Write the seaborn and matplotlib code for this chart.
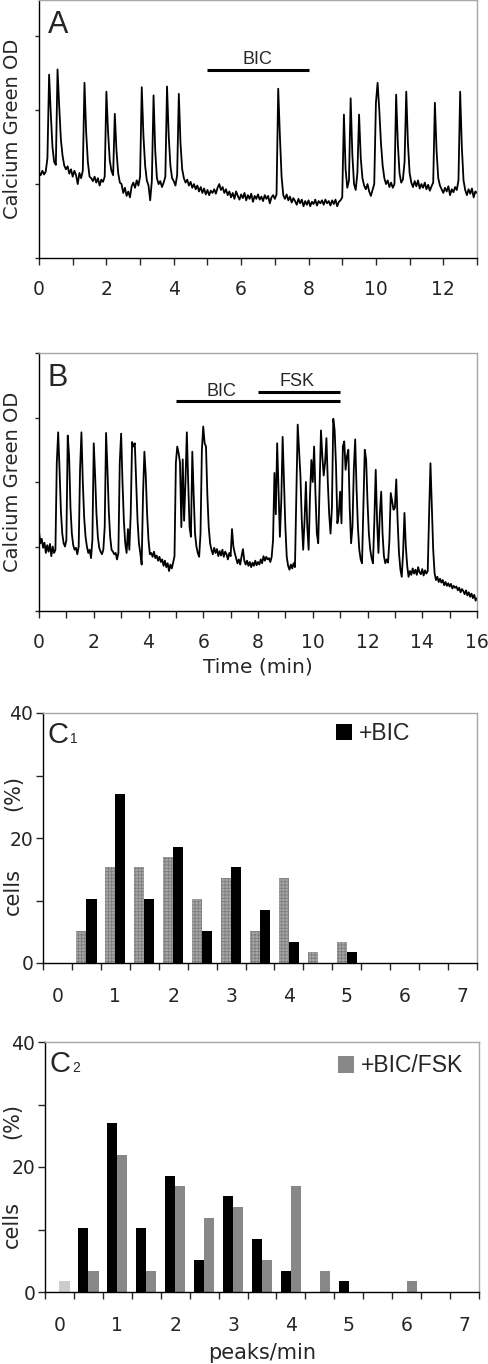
import numpy as np
import pandas as pd
import seaborn as sns
import matplotlib.pyplot as plt
from matplotlib.patches import Patch

# ---------------------------------------------------------
# data
# ---------------------------------------------------------
DT = 0.05  # trace sampling step (min)

# panel A: Calcium Green OD, 0-13 min
trace_a = [
    1.16, 1.12, 1.18, 1.13, 1.17, 1.35, 2.48, 1.95, 1.50, 1.30, 1.26, 2.55, 2.05, 1.60, 1.38, 1.25, 1.20, 1.24, 1.14, 1.20,
    1.10, 1.18, 1.12, 1.00, 1.15, 1.08, 1.18, 2.37, 1.70, 1.30, 1.10, 1.08, 1.04, 1.10, 1.02, 1.08, 0.98, 1.06, 1.03, 1.10,
    2.25, 1.70, 1.32, 1.18, 1.12, 1.95, 1.45, 1.15, 1.02, 1.00, 0.88, 0.95, 0.84, 0.90, 0.82, 0.97, 1.02, 0.95, 1.05, 0.98,
    1.10, 2.31, 1.65, 1.25, 1.05, 0.98, 0.78, 1.05, 2.20, 1.45, 1.08, 1.00, 1.04, 0.96, 1.02, 1.10, 2.32, 1.65, 1.25, 1.08,
    1.04, 0.98, 1.12, 2.22, 1.55, 1.20, 1.08, 1.02, 1.06, 0.98, 1.03, 0.95, 1.00, 0.93, 0.98, 0.90, 0.96, 0.88, 0.94, 0.86,
    0.92, 0.85, 0.91, 0.88, 0.93, 0.87, 0.95, 1.00, 0.92, 0.96, 0.88, 0.93, 0.85, 0.90, 0.82, 0.88, 0.80, 0.90, 0.84, 0.79,
    0.86, 0.81, 0.88, 0.78, 0.85, 0.80, 0.87, 0.76, 0.84, 0.80, 0.86, 0.79, 0.83, 0.77, 0.85, 0.80, 0.84, 0.74, 0.82, 0.85,
    0.80, 0.86, 2.29, 1.65, 1.10, 0.85, 0.80, 0.86, 0.78, 0.83, 0.75, 0.81, 0.77, 0.72, 0.80, 0.74, 0.79, 0.70, 0.77, 0.72,
    0.78, 0.70, 0.76, 0.73, 0.79, 0.71, 0.77, 0.74, 0.78, 0.72, 0.79, 0.74, 0.77, 0.71, 0.78, 0.73, 0.79, 0.70, 0.76, 0.78,
    0.82, 1.94, 1.20, 0.95, 1.05, 2.16, 1.40, 1.00, 0.92, 1.15, 1.94, 1.35, 1.08, 0.98, 0.93, 1.00, 0.90, 0.84, 0.92, 1.00,
    2.10, 2.37, 2.00, 1.55, 1.25, 1.08, 1.00, 1.05, 0.96, 1.02, 0.95, 1.00, 2.21, 1.55, 1.15, 1.02, 1.06, 1.30, 2.25, 1.55,
    1.15, 1.02, 0.96, 1.04, 0.97, 1.05, 0.94, 1.00, 0.95, 1.02, 0.93, 0.99, 0.91, 0.97, 1.02, 2.10, 1.45, 1.08, 0.98, 0.93,
    0.88, 0.95, 0.90, 0.97, 0.85, 0.93, 0.89, 0.96, 0.92, 1.05, 2.25, 1.50, 1.05, 0.92, 0.85, 0.93, 0.87, 0.94, 0.82, 0.90,
    0.88,
]

# panel B: Calcium Green OD, 0-16 min
trace_b = [
    1.23, 1.05, 1.12, 0.98, 1.06, 0.90, 1.02, 0.92, 1.04, 0.85, 1.00, 0.90, 0.95, 2.30, 2.77, 2.20, 1.55, 1.20, 1.05, 1.00,
    1.10, 2.72, 2.40, 1.60, 1.20, 1.02, 0.95, 0.98, 0.88, 1.00, 2.20, 2.77, 2.00, 1.45, 1.15, 1.00, 0.90, 0.95, 0.82, 1.10,
    2.60, 2.10, 1.50, 1.15, 0.98, 0.92, 0.88, 0.95, 1.30, 2.76, 2.20, 1.55, 1.15, 0.95, 0.92, 0.88, 0.90, 0.80, 0.90, 2.30,
    2.75, 2.00, 1.40, 1.05, 0.90, 1.27, 0.95, 1.50, 2.62, 2.55, 2.60, 2.00, 1.40, 1.05, 0.90, 0.72, 1.80, 2.47, 2.10, 1.50,
    1.10, 0.88, 0.90, 0.84, 0.92, 0.82, 0.86, 0.78, 0.84, 0.76, 0.80, 0.70, 0.78, 0.68, 0.74, 0.62, 0.72, 0.66, 0.75, 0.85,
    2.30, 2.55, 2.45, 2.30, 1.30, 2.35, 1.40, 2.00, 2.77, 2.00, 1.30, 1.15, 2.47, 1.80, 1.20, 1.00, 0.90, 0.84, 1.20, 2.50,
    2.86, 2.60, 2.55, 1.80, 1.30, 1.05, 0.95, 0.88, 0.98, 0.90, 0.96, 0.85, 0.93, 0.86, 0.95, 0.84, 0.92, 0.88, 0.80, 0.90,
    0.85, 1.27, 1.00, 0.90, 0.82, 0.74, 0.80, 0.72, 0.85, 0.96, 0.78, 0.72, 0.78, 0.70, 0.76, 0.68, 0.75, 0.70, 0.78, 0.71,
    0.76, 0.72, 0.80, 0.74, 0.85, 0.78, 0.84, 0.80, 0.82, 0.76, 0.84, 1.10, 2.14, 1.50, 2.60, 1.90, 1.15, 1.70, 2.70, 2.00,
    1.30, 0.84, 0.70, 0.64, 0.72, 0.66, 0.74, 0.68, 1.80, 2.89, 2.50, 2.10, 1.40, 0.95, 1.40, 2.00, 1.30, 0.95, 1.80, 2.34,
    2.00, 2.55, 1.80, 1.20, 1.05, 1.90, 2.80, 2.40, 2.10, 2.30, 2.68, 2.00, 1.50, 1.20, 1.60, 2.98, 2.80, 2.25, 1.36, 1.50,
    1.85, 1.36, 2.55, 2.63, 2.19, 2.40, 2.50, 1.60, 1.05, 1.30, 2.20, 2.66, 1.90, 1.30, 0.95, 0.80, 0.74, 1.60, 2.50, 2.35,
    1.70, 1.20, 0.95, 0.82, 0.74, 1.40, 2.19, 1.40, 0.90, 1.50, 1.85, 1.20, 0.85, 0.74, 0.80, 0.75, 1.10, 1.83, 1.70, 1.57,
    1.60, 2.04, 1.40, 0.90, 0.65, 0.53, 0.90, 1.52, 1.00, 0.70, 0.53, 0.62, 0.56, 0.66, 0.58, 0.64, 0.56, 0.68, 0.60, 0.57,
    0.65, 0.55, 0.63, 0.58, 0.62, 1.50, 2.29, 1.60, 0.95, 0.59, 0.48, 0.53, 0.45, 0.50, 0.44, 0.48, 0.40, 0.45, 0.39, 0.43,
    0.38, 0.42, 0.35, 0.39, 0.36, 0.38, 0.32, 0.36, 0.29, 0.34, 0.31, 0.26, 0.32, 0.24, 0.29, 0.22, 0.27, 0.20, 0.25, 0.16,
    0.20,
]

# drug application periods (label, start min, end min)
drugs_a = [("BIC", 5, 8)]
drugs_b = [("BIC", 5, 11), ("FSK", 8, 11)]

# histograms: peaks/min bins and % of cells
rates = [0, 0.5, 1, 1.5, 2, 2.5, 3, 3.5, 4, 4.5, 5, 5.5, 6, 6.5, 7]
ctrl_pct = [0, 5.1, 15.3, 15.3, 16.9, 10.2, 13.6, 5.1, 13.6, 1.7, 3.4, 0, 0, 0, 0]
bic_pct = [0, 10.2, 27.1, 10.2, 18.6, 5.1, 15.3, 8.5, 3.4, 0, 1.7, 0, 0, 0, 0]
fsk_pct = [1.7, 3.4, 22.0, 3.4, 16.9, 11.9, 13.6, 5.1, 16.9, 3.4, 0, 0, 1.7, 0, 0]

# ---------------------------------------------------------
# style
# ---------------------------------------------------------
sns.set_style("ticks")
plt.rcParams['font.family'] = ['DejaVu Sans']
plt.rcParams['hatch.linewidth'] = 0.6
ARIAL = 'Liberation Sans'
TICK = 13.5
LAB = 14.5

W, H = 488, 1364
fig = plt.figure(figsize=(W / 100, H / 100), dpi=100)


def px_axes(l, t, r, b):
    return fig.add_axes([l / W, 1 - b / H, (r - l) / W, (b - t) / H])


def frame(ax):
    for s in ['left', 'bottom']:
        ax.spines[s].set_color('black')
        ax.spines[s].set_linewidth(1.0)
    for s in ['top', 'right']:
        ax.spines[s].set_visible(True)
        ax.spines[s].set_color('#a8a8a8')
        ax.spines[s].set_linewidth(1.0)


def trace_panel(ax, vals, xmax, ymax, letter, drugs, bar_levels, text_levels):
    df = pd.DataFrame({'t': np.arange(len(vals)) * DT, 'od': vals})
    sns.lineplot(data=df, x='t', y='od', ax=ax, color='black', lw=1.3,
                 estimator=None)
    ax.set_xlim(0, xmax)
    ax.set_ylim(0, ymax)
    ax.set_xticks(range(xmax + 1))
    ax.set_xticklabels([str(i) if i % 2 == 0 else '' for i in range(xmax + 1)])
    ax.set_yticks(range(int(ymax) + 1))
    ax.set_yticklabels([])
    ax.tick_params(axis='x', direction='out', length=5, width=1,
                   labelsize=TICK, pad=11)
    ax.tick_params(axis='y', direction='out', length=3, width=1)
    ax.set_xlabel('')
    ax.set_ylabel('')
    # y label as plain text, glyphs end ~17 px from the left edge
    ax.text(-0.038, 0.5, 'Calcium Green OD', transform=ax.transAxes,
            rotation=90, ha='right', va='center', fontsize=14)
    ax.text(0.02, 0.872, letter, transform=ax.transAxes, fontsize=22,
            family=ARIAL, va='baseline')
    for (name, t0, t1), yl, yt in zip(drugs, bar_levels, text_levels):
        ax.plot([t0, t1], [yl, yl], color='black', lw=2.2, solid_capstyle='butt')
        ax.text(*yt, name, fontsize=13, family=ARIAL, ha='center', va='baseline')
    frame(ax)


# ---------------------------------------------------------
# A
# ---------------------------------------------------------
ax_a = px_axes(39, 0, 477, 258)
trace_panel(ax_a, trace_a, 13, 3.49, 'A', drugs_a, [2.54], [(6.47, 2.62)])

# ---------------------------------------------------------
# B
# ---------------------------------------------------------
ax_b = px_axes(39, 353, 477, 611)
trace_panel(ax_b, trace_b, 16, 4.0, 'B', drugs_b, [3.26, 3.40],
            [(6.65, 3.33), (9.44, 3.49)])
ax_b.set_xlabel('Time (min)', fontsize=LAB, labelpad=4)


# ---------------------------------------------------------
# C1 / C2 histograms
# ---------------------------------------------------------
def hist_panel(ax, df, order, palette, sub, legend_label, legend_color, leg_y,
               ylab_x, cells_y, pct_y):
    sns.barplot(data=df, x='rate', y='pct', hue='group', hue_order=order,
                palette=palette, native_scale=True, width=0.7, saturation=1,
                errorbar=None, linewidth=0, legend=False, ax=ax)
    ax.set_xlim(-0.25, 7.25)
    ax.set_ylim(0, 40)
    ax.set_xticks(range(8))
    ax.set_xticklabels([str(i) for i in range(8)])
    ax.set_xticks(np.arange(-0.25, 7.3, 0.5), minor=True)
    ax.tick_params(axis='x', which='major', length=0, labelsize=TICK, pad=17)
    ax.tick_params(axis='x', which='minor', direction='out', length=5, width=1)
    ax.set_yticks([0, 20, 40])
    ax.set_yticks([10, 30], minor=True)
    ax.tick_params(axis='y', which='both', direction='out', length=5, width=1,
                   labelsize=TICK, pad=2)
    ax.set_xlabel('')
    ax.set_ylabel('')
    ax.text(ylab_x, cells_y, 'cells', transform=ax.transAxes, rotation=90,
            ha='right', va='center', fontsize=15)
    ax.text(ylab_x, pct_y, '(%)', transform=ax.transAxes, rotation=90,
            ha='right', va='center', fontsize=15)
    ax.text(0.01, 0.88, 'C', transform=ax.transAxes, fontsize=21,
            family=ARIAL, va='baseline')
    ax.text(0.062, 0.88, sub, transform=ax.transAxes, fontsize=10,
            family=ARIAL, va='baseline')
    ax.legend(handles=[Patch(facecolor=legend_color, edgecolor='none', label=legend_label)],
              loc='upper left', bbox_to_anchor=(0.675, leg_y), frameon=False,
              prop={'family': ARIAL, 'size': 16.5}, handlelength=0.7,
              handleheight=0.7, handletextpad=0.3, borderpad=0, borderaxespad=0)
    frame(ax)


df_c1 = pd.DataFrame({'rate': rates * 2, 'pct': ctrl_pct + bic_pct,
                      'group': ['ctrl'] * len(rates) + ['bic'] * len(rates)})
ax_c1 = px_axes(43, 713, 477, 963)
hist_panel(ax_c1, df_c1, ['ctrl', 'bic'], {'ctrl': '#a6a6a6', 'bic': 'black'},
           '1', '+BIC', 'black', 0.965, -0.046, 0.286, 0.68)
for bar in ax_c1.containers[0]:
    bar.set_hatch('+++++')
    bar.set_edgecolor('#7e7e7e')
    bar.set_linewidth(0)

df_c2 = pd.DataFrame({'rate': rates * 2, 'pct': bic_pct + fsk_pct,
                      'group': ['bic'] * len(rates) + ['fsk'] * len(rates)})
ax_c2 = px_axes(45, 1042, 479, 1292)
hist_panel(ax_c2, df_c2, ['bic', 'fsk'], {'bic': 'black', 'fsk': '#888888'},
           '2', '+BIC/FSK', '#888888', 0.95, -0.053, 0.272, 0.684)
ax_c2.containers[1][0].set_facecolor('#cccccc')
ax_c2.set_xlabel('peaks/min', fontsize=15, labelpad=6)

fig.savefig('out.png', dpi=100)
